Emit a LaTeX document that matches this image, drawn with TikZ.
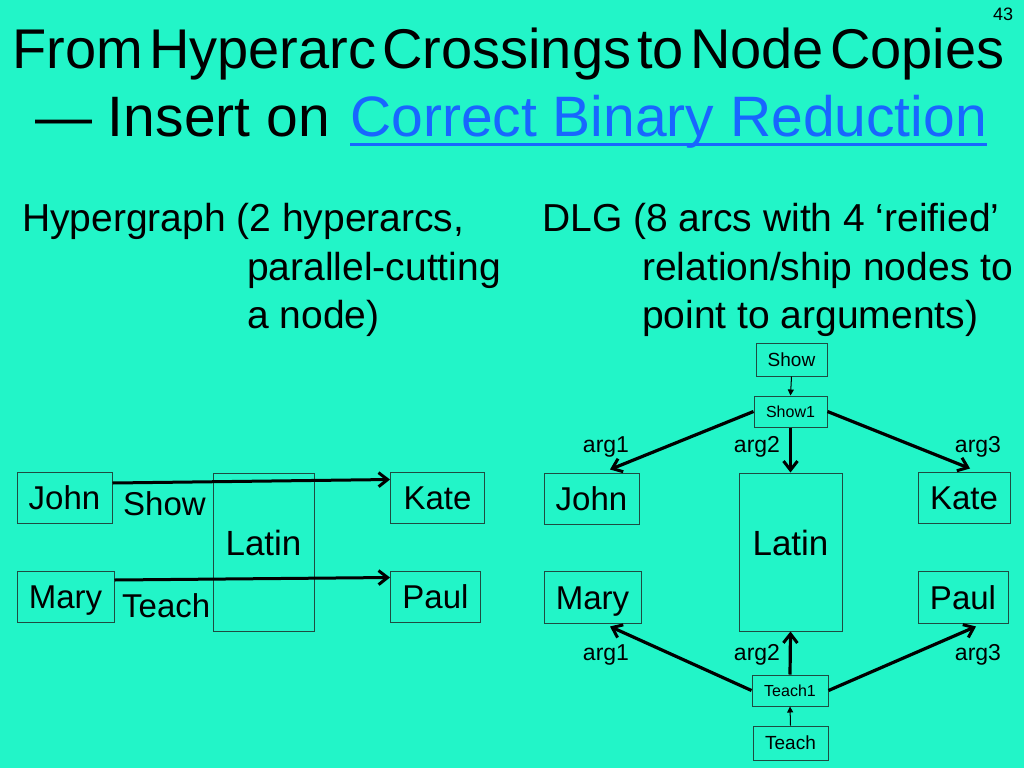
\documentclass[tikz,border=0pt]{standalone}
\usepackage{fontspec}
\setmainfont{Liberation Sans}
\usetikzlibrary{arrows.meta,calc}
\definecolor{bg}{RGB}{34,245,200}
\definecolor{linkblue}{RGB}{24,102,255}
\definecolor{boxline}{RGB}{30,75,65}
\newcommand{\fsz}[1]{\fontsize{#1}{#1}\selectfont}
\begin{document}
\begin{tikzpicture}[x=1pt,y=-1pt,
  txt/.style={inner sep=0,anchor=base west},
  bigbox/.style={draw=boxline,line width=1pt,inner sep=0,font=\fsz{33},text height=24pt,text depth=0pt},
  smallbox/.style={draw=boxline,line width=1pt,inner sep=0},
  hyarc/.style={line width=3pt,-{Straight Barb[length=9pt,width=14pt,line width=3pt]}},
  argarc/.style={line width=3.2pt,-{Straight Barb[length=9pt,width=14pt,line width=3pt]}},
  thinarc/.style={line width=1pt,-{Triangle[length=6pt,width=6pt]}},
  arglab/.style={inner sep=0,font=\fsz{23}}]
\fill[bg] (0,0) rectangle (1024,768);
\useasboundingbox (0,0) rectangle (1024,768);

% title
\node[txt,font=\fsz{18}] (pg) at (993,21) {43};
\node[txt,font=\fsz{56},text height=40pt,text depth=12pt] (t1) at (12,68)
  {\spaceskip=0.11em From Hyperarc Crossings to Node Copies};
\node[txt,font=\fsz{57}] (t2) at (35,136) {— Insert on};
\node[txt,font=\fsz{57},text=linkblue] (link) at (350,136) {Correct Binary Reduction};
\draw[linkblue,line width=3pt] ($(link.base west)+(0,8)$) -- ($(link.base east)+(0,8)$);

% subtitles
\node[txt,font=\fsz{39}] (h1) at (22,231) {Hypergraph (2 hyperarcs,};
\node[txt,font=\fsz{39}] (h2) at (247,280) {parallel-cutting};
\node[txt,font=\fsz{39}] (h3) at (247,328) {a node)};
\node[txt,font=\fsz{39}] (d1) at (542,231) {DLG (8 arcs with 4 ‘reified’};
\node[txt,font=\fsz{39}] (d2) at (642,280) {relation/ship nodes to};
\node[txt,font=\fsz{39}] (d3) at (642,328) {point to arguments)};

% left: hypergraph
\node[bigbox,minimum width=95,minimum height=51] (lJohn) at (64.5,497.5) {John};
\node[bigbox,minimum width=97,minimum height=51] (lMary) at (65.5,596.5) {Mary};
\node[bigbox,minimum width=94,minimum height=51] (lKate) at (437.5,497.5) {Kate};
\node[bigbox,minimum width=90,minimum height=51] (lPaul) at (435.5,596.5) {Paul};
\node[bigbox,minimum width=101,minimum height=158,
  label={[font=\fsz{35},yshift=9pt]center:Latin}] (lLatin) at (263.5,552) {};
\node[txt,font=\fsz{33}] (lShow) at (123,515) {Show};
\node[txt,font=\fsz{33}] (lTeach) at (122,617) {Teach};
\draw[hyarc] ($(lJohn.east)+(0,-14.5)$) -- ($(lKate.west)+(0,-18)$);
\draw[hyarc] ($(lMary.east)+(0,-16.5)$) -- ($(lPaul.west)+(0,-19)$);

% right: DLG
\node[smallbox,minimum width=71,minimum height=33,font=\fsz{19}] (rShow) at (791.5,359.5) {Show};
\node[smallbox,minimum width=73,minimum height=31,font=\fsz{16}] (rShow1) at (790.5,411.5) {Show1};
\node[smallbox,minimum width=76,minimum height=31,font=\fsz{16}] (rTeach1) at (790,690.5) {Teach1};
\node[smallbox,minimum width=75,minimum height=34,font=\fsz{19}] (rTeach) at (790.5,743) {Teach};
\node[bigbox,minimum width=95,minimum height=51] (rJohn) at (591.5,498.5) {John};
\node[bigbox,minimum width=97,minimum height=52] (rMary) at (592.5,597) {Mary};
\node[bigbox,minimum width=92,minimum height=51] (rKate) at (964,497.5) {Kate};
\node[bigbox,minimum width=90,minimum height=52] (rPaul) at (963,597) {Paul};
\node[bigbox,minimum width=103,minimum height=158,
  label={[font=\fsz{35},yshift=9pt]center:Latin}] (rLatin) at (790.5,552) {};

\draw[thinarc] (rShow.south) -- (rShow1.north);
\draw[thinarc] (rTeach.north) -- (rTeach1.south);
\draw[argarc] (rShow1.west) -- ($(rJohn.north)+(18.5,-3)$);
\draw[argarc] (rShow1.south) -- (rLatin.north);
\draw[argarc] (rShow1.east) -- ($(rKate.north)+(6,-3)$);
\draw[argarc] (rTeach1.west) -- ($(rMary.south)+(17.5,3)$);
\draw[argarc] (rTeach1.north) -- (rLatin.south);
\draw[argarc] (rTeach1.east) -- ($(rPaul.south)+(13,3)$);

\node[arglab] (a1t) at (606,447) {arg1};
\node[arglab] (a2t) at (757,447) {arg2};
\node[arglab] (a3t) at (978,447) {arg3};
\node[arglab] (a1b) at (606,655) {arg1};
\node[arglab] (a2b) at (757,655) {arg2};
\node[arglab] (a3b) at (978,655) {arg3};
\end{tikzpicture}
\end{document}
